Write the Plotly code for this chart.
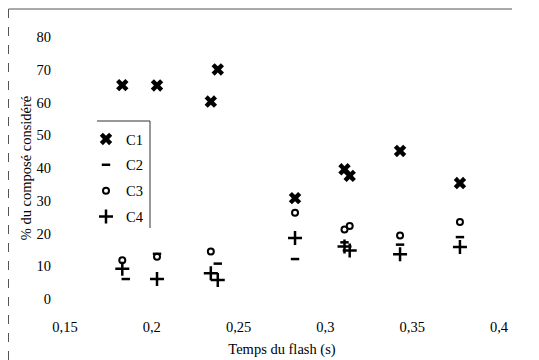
import plotly.graph_objects as go

# Data
c1_x = [0.183, 0.203, 0.234, 0.238, 0.2825, 0.311, 0.314, 0.343, 0.3775]
c1_y = [65.3, 65.2, 60.3, 70.1, 30.8, 39.6, 37.6, 45.2, 35.4]

c2_x = [0.185, 0.203, 0.238, 0.2825, 0.311, 0.343, 0.3775]
c2_y = [6.1, 13.8, 10.8, 12.2, 17.3, 16.6, 18.9]

c3_x = [0.183, 0.203, 0.234, 0.2825, 0.311, 0.314, 0.343, 0.3775]
c3_y = [11.8, 12.9, 14.5, 26.3, 21.2, 22.3, 19.4, 23.5]

c4_x = [0.183, 0.203, 0.234, 0.238, 0.2825, 0.311, 0.314, 0.343, 0.3775]
c4_y = [9.2, 6.1, 7.9, 5.8, 18.6, 16.0, 14.8, 13.7, 15.9]

x_ticks = [0.15, 0.2, 0.25, 0.3, 0.35, 0.4]
x_tick_labels = ["0,15", "0,2", "0,25", "0,3", "0,35", "0,4"]
y_ticks = [0, 10, 20, 30, 40, 50, 60, 70, 80]

FONT = "Liberation Serif"
FS = 14.5

fig = go.Figure()
fig.add_trace(go.Scatter(x=c1_x, y=c1_y, mode="markers", name="C1", legendgroup="1",
                         marker=dict(symbol="x", size=11, color="black",
                                     line=dict(width=0))))
fig.add_trace(go.Scatter(x=c2_x, y=c2_y, mode="markers", name="C2", legendgroup="2",
                         marker=dict(symbol="line-ew", size=6, color="black",
                                     line=dict(width=2.5, color="black"))))
fig.add_trace(go.Scatter(x=c3_x, y=c3_y, mode="markers", name="C3", legendgroup="3",
                         marker=dict(symbol="circle-open", size=6, color="black",
                                     line=dict(width=2, color="black"))))
fig.add_trace(go.Scatter(x=c4_x, y=c4_y, mode="markers", name="C4", legendgroup="4",
                         marker=dict(symbol="cross-thin", size=10, color="black",
                                     line=dict(width=2.5, color="black"))))

# page body has an 8px margin: compensate so that screen pixels match
OFF = 8
W, H = 539 - OFF, 360 - OFF
L, T = 65 - OFF, 37 - OFF
R = W - (499 - OFF)
B = H - (299 - OFF)
pw, ph = W - L - R, H - T - B

def px(xpix):
    return (xpix - OFF - L) / pw

def py(ypix):
    return (H - B - (ypix - OFF)) / ph

shapes = [
    # outer frame (top and left)
    dict(type="line", xref="paper", yref="paper", x0=px(8.5), x1=px(512), y0=py(9), y1=py(9),
         line=dict(color="#555", width=1)),
    dict(type="line", xref="paper", yref="paper", x0=px(8.5), x1=px(8.5), y0=py(9), y1=py(360),
         line=dict(color="#555", width=1, dash="dash")),
    # legend frame (top and right)
    dict(type="line", xref="paper", yref="paper", x0=px(97), x1=px(150), y0=py(121), y1=py(121),
         line=dict(color="#333", width=1)),
    dict(type="line", xref="paper", yref="paper", x0=px(150), x1=px(150), y0=py(121), y1=py(228),
         line=dict(color="#333", width=1)),
]

fig.update_layout(
    width=W, height=H,
    margin=dict(l=L, r=R, t=T, b=B, autoexpand=False),
    paper_bgcolor="white", plot_bgcolor="white",
    font=dict(family=FONT, size=FS, color="black"),
    showlegend=True,
    legend=dict(x=px(86), y=py(123), xanchor="left", yanchor="top",
                bgcolor="rgba(0,0,0,0)", borderwidth=0,
                traceorder="grouped", tracegroupgap=4,
                font=dict(family=FONT, size=FS, color="black"),
                itemwidth=30),
    xaxis=dict(range=[0.15, 0.4], tickvals=x_ticks, ticktext=x_tick_labels,
               showgrid=False, zeroline=False, showline=False, ticks="",
               ticklabelstandoff=17, automargin=False,
               title=dict(text="Temps du flash (s)", font=dict(family=FONT, size=FS), standoff=10)),
    yaxis=dict(range=[0, 80], tickvals=y_ticks, showgrid=False, zeroline=False,
               showline=False, ticks="", ticklabelstandoff=13, automargin=False,
               title=dict(text="% du composé considéré", font=dict(family=FONT, size=FS), standoff=1)),
    shapes=shapes,
)
fig.update_traces(cliponaxis=False)

fig.write_html("out.html")
